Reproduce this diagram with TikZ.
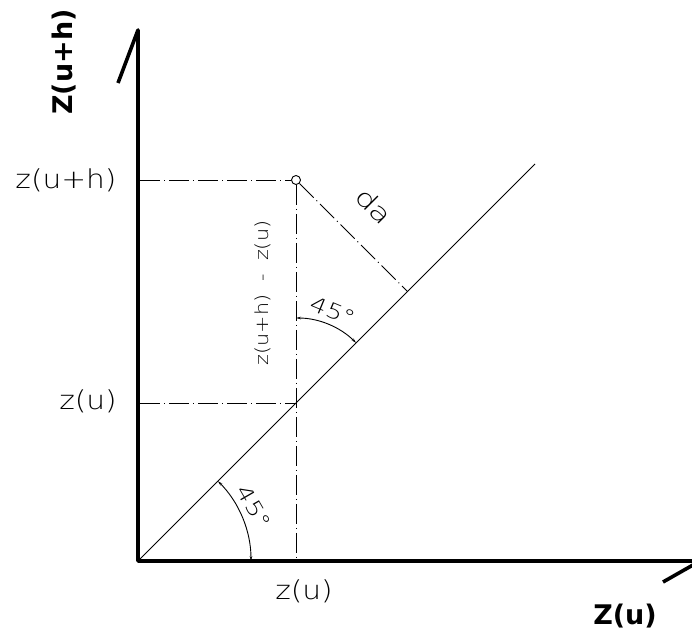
\documentclass[tikz,border=0pt]{standalone}
\usepackage{fontspec}
\setmainfont{DejaVu Sans ExtraLight}
\setsansfont{DejaVu Sans}
\usetikzlibrary{arrows.meta}
\begin{document}
\begin{tikzpicture}[x=1pt,y=-1pt,
  axisline/.style={line width=3.6pt, line join=round},
  thinline/.style={line width=0.9pt},
  dashdot/.style={line width=0.9pt, dash pattern=on 20pt off 4pt on 1pt off 4pt},
  dimarc/.style={line width=0.9pt, {Stealth[length=5pt,width=2.6pt]}-{Stealth[length=5pt,width=2.6pt]}},
  lbl/.style={font=\fontsize{26}{26}\selectfont, inner sep=0pt, xscale=1.14},
  boldlbl/.style={font=\fontsize{27}{27}\selectfont\sffamily\bfseries, inner sep=0pt},
  midlbl/.style={font=\fontsize{18}{18}\selectfont, inner sep=0pt, xscale=1.15},
  anglbl/.style={font=\fontsize{21}{21}\selectfont, inner sep=0pt, xscale=1.25},
  dlbl/.style={font=\fontsize{25}{25}\selectfont, inner sep=0pt, xscale=1.3}]
\useasboundingbox (0,0) rectangle (692,637);
% key points
\coordinate (O) at (138,561);
\coordinate (Ytop) at (138,30);
\coordinate (Ytick) at (118,83);
\coordinate (Xtip) at (700,561);
\coordinate (Xtick) at (663,582);
\coordinate (D) at (535,164);
\coordinate (Q) at (296,403);
\coordinate (F) at (407.5,291.5);
\coordinate (Yh) at (140,180);
\coordinate (Yu) at (140,403);
\coordinate (Xu) at (296,561);
\node[circle, draw, thinline, minimum size=9pt, inner sep=0pt] (P) at (296,180) {};
% axes
\draw[axisline] (Ytick) -- (Ytop) -- (O) -- (Xtip) -- (Xtick);
% 45 degree line
\draw[thinline] (O) -- (D);
% dash-dot construction lines
\draw[dashdot] (Yh) -- (P.west);
\draw[dashdot] (Yu) -- (Q);
\draw[dashdot] (P.south) -- (Xu);
\draw[dashdot] (P.south east) -- (F);
% angle arcs
\draw[dimarc] (Q) ++(0,-85) arc[start angle=-90, end angle=-45, radius=85];
\draw[dimarc] (O) ++(113,0) arc[start angle=0, end angle=-45, radius=113];
% labels
\node[boldlbl, rotate=90] (ylab) at (64,62) {Z(u+h)};
\node[boldlbl] (xlab) at (625,616) {Z(u)};
\node[lbl] (zuh) at (66,180) {z(u+h)};
\node[lbl] (zuleft) at (88,401) {z(u)};
\node[lbl] (zubottom) at (304,591) {z(u)};
\node[rotate=90, midlbl] (diff) at (263,293) {z(u+h)~~-~~z(u)};
\node[rotate=-22.5, anglbl] (angup) at (333,311) {45°};
\node[rotate=-60, anglbl] (anglow) at (254,507) {45°};
\node[rotate=-45, dlbl] (dist) at (374,206) {da};
\end{tikzpicture}
\end{document}
